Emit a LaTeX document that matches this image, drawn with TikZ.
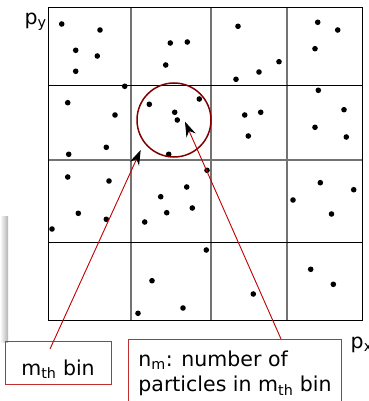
\documentclass[tikz,border=0pt]{standalone}
\usepackage{fontspec}
\setmainfont{DejaVu Sans}
\usetikzlibrary{arrows.meta, positioning, calc}

\definecolor{ptrred}{HTML}{C00000}
\definecolor{circred}{HTML}{800000}
\definecolor{boxred}{HTML}{C03030}

\begin{document}
\begin{tikzpicture}[x=1pt, y=-1pt, >=latex, thick,
        major/.style={black, line width=1.2pt},
        minor/.style={black!55, line width=1.7pt},
        particle/.style={circle, fill=black, inner sep=0pt, minimum size=5.6pt},
        txt/.style={font=\fontsize{20.5}{25.5}\selectfont},
        labelbox/.style={txt, draw=boxred, line width=1pt, inner ysep=0pt},
        pointer/.style={ptrred, line width=0.9pt, -{Stealth[black, length=15pt, width=10pt]}}]
        \useasboundingbox (0,0) rectangle (368,401);
        \clip (0,0) rectangle (368,401);

        \shade[left color=white, right color=gray!60] (0,216) rectangle (8,342);

        \draw[minor] (130.7,7.3) -- (130.7,320.7);
        \draw[minor] (210.7,7.3) -- (210.7,320.7);
        \draw[minor] (286.7,7.3) -- (286.7,320.7);
        \draw[minor] (48.7,160) -- (362.7,160);
        \draw[major] (48.7,85.3) -- (362.7,85.3);
        \draw[major] (48.7,242.3) -- (362.7,242.3);
        \draw[major] (48.7,7.3) rectangle (362.7,320.7);

        \foreach \px/\py in {61.7/24, 100/30, 75.7/50.3, 97.3/56, 75.7/71.3,
                170.3/43, 187.3/42, 165.7/65,
                238/26.3, 236/79.3, 259/72, 279/61.7,
                317.7/22.3, 337.7/30, 315/48.7,
                124.7/86.3, 67.7/102.7, 115/115, 106.3/147.3, 68.7/154.3,
                149.3/104.3, 174.7/112.3, 177.3/120, 168.7/154.3, 199.3/99,
                244.7/115, 260.7/112.3, 248.3/136,
                318.3/90.3, 344/109.7, 315/127.3, 346.3/137,
                67.7/177, 109/181, 78.3/213.3, 106.3/219.3, 52/229,
                160.7/196.7, 186.7/187, 207/170.3, 192.3/208, 166.7/212.7, 144.7/222,
                320.3/182.7, 353.7/189.7, 293/200, 331.5/214,
                206.3/250, 152/280.7, 138/313.3, 183/308,
                253.3/294, 310.7/269.3, 333.3/284.3}
            \node[particle] at (\px,\py) {};

        \node (region) [circle, draw=circred, line width=1.5pt, inner sep=0pt, minimum size=74pt] at (174,120) {};

        \node (py) [txt, anchor=base west] at (21,24.5) {p\textsubscript{y}};
        \node (px) [txt, anchor=base west] at (347,348) {p\textsubscript{x}};

        \node (mbin) [labelbox, minimum width=106pt, text height=34pt, text depth=9pt] at (58,362.5) {m\textsubscript{th} bin};
        \node (nm) [labelbox, anchor=north west, align=left, minimum width=213pt, text height=52pt, text depth=40pt] at (128,339)
            {n\textsubscript{m}: number of\\particles in m\textsubscript{th} bin};

        \coordinate (from1) at (50,349);
        \coordinate (to1) at (140.7,150);
        \coordinate (from2) at (281,339);
        \coordinate (to2) at (185,121.7);
        \draw[pointer] (from1) -- (to1);
        \draw[pointer] (from2) -- (to2);
    \end{tikzpicture}
\end{document}
